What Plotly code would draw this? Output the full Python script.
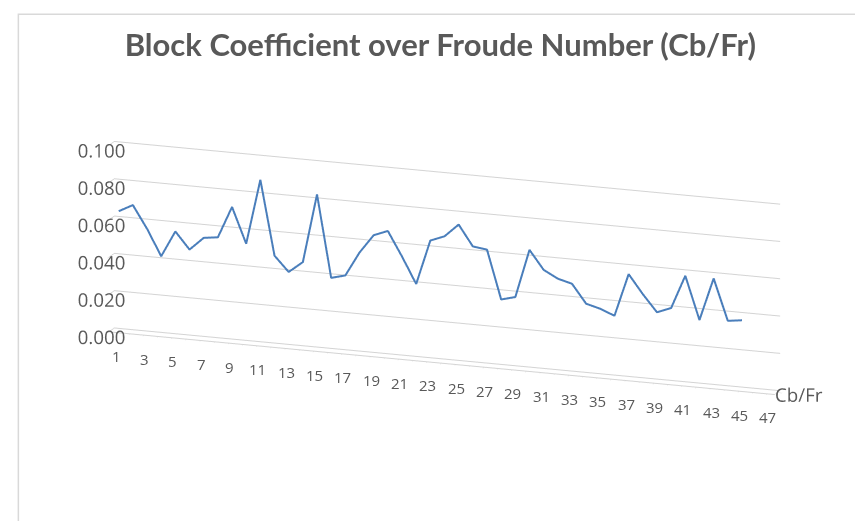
import math
import plotly.graph_objects as go

categories = list(range(1, 48))
values = [0.064, 0.068, 0.056, 0.042, 0.056, 0.047, 0.054, 0.055, 0.072, 0.053,
          0.088, 0.048, 0.040, 0.046, 0.083, 0.039, 0.041, 0.054, 0.064, 0.067,
          0.054, 0.040, 0.064, 0.067, 0.074, 0.063, 0.062, 0.036, 0.038, 0.064,
          0.054, 0.050, 0.048, 0.038, 0.036, 0.033, 0.056, 0.046, 0.037, 0.040,
          0.058, 0.035, 0.058, 0.036, 0.037, None, None]
labelled_categories = [c for c in categories if c % 2 == 1]
series_name = "Cb/Fr"
value_ticks = [0.0, 0.02, 0.04, 0.06, 0.08, 0.1]
title_text = "Block Coefficient over Froude Number (Cb/Fr)"

fig = go.Figure()
fig.add_trace(go.Scatter3d(
    x=categories, y=[0] * len(categories), z=values,
    mode="lines", name=series_name,
    line=dict(color="#4a7ebb", width=4),
    connectgaps=False, showlegend=False,
))

theta = math.radians(20)
phi = math.radians(15)
r = 2.6
eye = dict(x=r * math.sin(theta) * math.cos(phi),
           y=-r * math.cos(theta) * math.cos(phi),
           z=r * math.sin(phi))

grid = "#d4d4d4"
tick_font = dict(family="Open Sans, DejaVu Sans, sans-serif", size=15, color="#595959")

# category labels placed on the front edge of the floor, horizontal like Excel
category_annotations = [
    dict(x=c, y=-0.5, z=0, text=str(c), showarrow=False, yshift=-24,
         font=tick_font, xanchor="center", yanchor="middle")
    for c in labelled_categories
]

fig.update_layout(
    width=863, height=521,
    margin=dict(l=0, r=0, t=0, b=0),
    paper_bgcolor="white",
    title=dict(text=f"<b>{title_text}</b>", x=0.501, xanchor="center", y=0.929, yanchor="middle",
               font=dict(family="Lato, Open Sans, sans-serif", size=31, color="#595959")),
    scene=dict(
        domain=dict(x=[0.021, 0.991], y=[0.03, 0.974]),
        aspectmode="manual",
        aspectratio=dict(x=2.88, y=0.065, z=0.785),
        camera=dict(eye=eye, up=dict(x=0, y=0, z=1),
                    center=dict(x=0, y=0, z=0), projection=dict(type="orthographic")),
        xaxis=dict(title=dict(text=""), range=[0.5, 47.5], tickvals=categories,
                   showticklabels=False,
                   showgrid=False, zeroline=False, showline=True, linecolor=grid, linewidth=2,
                   ticks="outside", ticklen=5, tickcolor=grid, showbackground=False,
                   showspikes=False),
        yaxis=dict(title=dict(text=""), range=[-0.5, 0.5], tickvals=[0], ticktext=[series_name],
                   tickangle=0,
                   showgrid=False, zeroline=False, showline=True, linecolor=grid,
                   ticks="outside", ticklen=4, tickcolor=grid, showbackground=False,
                   tickfont=tick_font, showspikes=False),
        zaxis=dict(title=dict(text=""), range=[0, 0.1], tickvals=value_ticks, tickformat=".3f",
                   tickangle=0,
                   showgrid=True, gridcolor=grid, gridwidth=2, zeroline=False, showline=False,
                   ticks="outside", ticklen=8, tickcolor=grid,
                   showbackground=False, tickfont=tick_font, showspikes=False),
        annotations=category_annotations,
    ),
    shapes=[dict(type="rect", xref="paper", yref="paper", x0=0.012, x1=0.993, y0=-0.01, y1=0.988,
                 line=dict(color="#d9d9d9", width=1.5), fillcolor="rgba(0,0,0,0)")],
)

fig.write_html("out.html")
